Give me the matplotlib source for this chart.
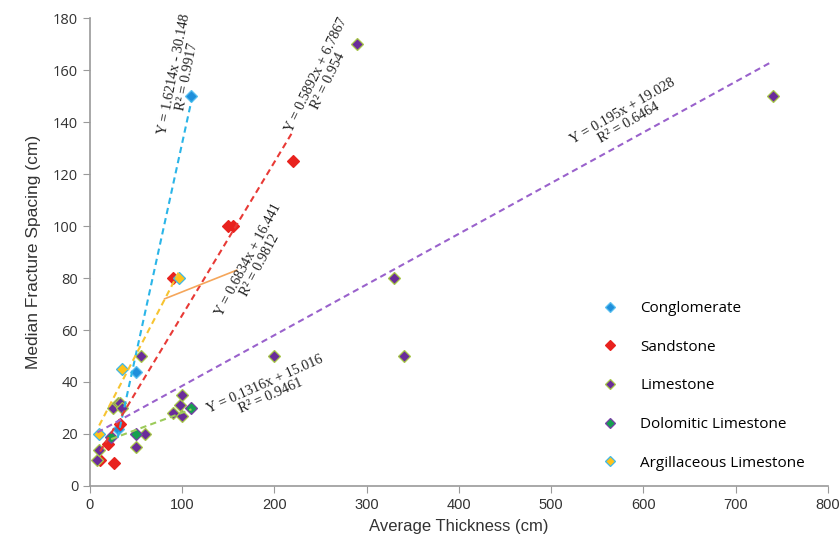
import numpy as np
import matplotlib
matplotlib.use('Agg')
import matplotlib.pyplot as plt

# data (thickness cm, spacing cm)
names = ['Conglomerate', 'Sandstone', 'Limestone', 'Dolomitic Limestone',
         'Argillaceous Limestone']

cong_x = [30, 50, 110]
cong_y = [22, 44, 150]

sand_x = [11, 20, 26, 33, 90, 150, 155, 220]
sand_y = [10, 16, 9, 24, 80, 100, 100, 125]

lime_x = [8, 10, 25, 30, 33, 35, 50, 55, 60, 90, 98, 100, 100, 200, 290, 330, 340, 740]
lime_y = [10, 14, 30, 32, 32, 30, 15, 50, 20, 28, 31, 27, 35, 50, 170, 80, 50, 150]

dolo_x = [23, 50, 110]
dolo_y = [19, 20, 30]

argi_x = [10, 35, 96]
argi_y = [20, 45, 80]

# trendline coefficients as printed on the chart
slopes = [1.6214, 0.5892, 0.195, 0.1316, 0.6834]
intercepts = [-30.148, 6.7867, 19.028, 15.016, 16.441]
r2 = ['0.9917', '0.954', '0.6464', '0.9461', '0.9812']

xs = [cong_x, sand_x, lime_x, dolo_x, argi_x]
ys = [cong_y, sand_y, lime_y, dolo_y, argi_y]

fills = ['#1F8FDB', '#E8221E', '#6A2C9A', '#16A050', '#FFC21A']
edges = ['#5BC0F0', '#E8221E', '#A8C848', '#7A3FA8', '#3FB8E8']
trend_cols = ['#2BB5E8', '#E83A36', '#9A62CC', '#9CCB5A', '#F7C431']

# label placement (data coords) and rotation
lab_pos = [(98, 158), (252, 157), (581, 142), (193, 37), (178, 86)]
lab_rot = [79, 64, 30, 24, 62]

fig = plt.figure(figsize=(8.4, 5.46), dpi=100)
ax = fig.add_axes([0.1071, 0.1099, 0.8786, 0.8571])

for i in range(5):
    ax.plot(xs[i], ys[i], 'D', ms=6, mfc=fills[i], mec=edges[i], mew=0.9,
            ls='none', label=names[i], zorder=2)

for i in range(5):
    x0, x1 = min(xs[i]), max(xs[i])
    tx = np.array([x0, x1])
    ax.plot(tx, slopes[i] * tx + intercepts[i], ls=(0, (3, 2)), lw=1.5,
            color=trend_cols[i], zorder=3)

for i in range(5):
    b = intercepts[i]
    sign = '-' if b < 0 else '+'
    txt = 'Y = %gx %s %g\nR² = %s' % (slopes[i], sign, abs(b), r2[i])
    ax.text(lab_pos[i][0], lab_pos[i][1], txt, rotation=lab_rot[i],
            rotation_mode='anchor', ha='center', va='center',
            family='Liberation Serif', fontsize=10.3, color='#222222',
            linespacing=1.0, zorder=4)

# leader line for the argillaceous label
lead_x = [81, 159]
lead_y = [72, 83]
ax.plot(lead_x, lead_y, color='#F5A65B', lw=1.2, zorder=3)

ax.set_xlim(0, 800)
ax.set_ylim(0, 180)
ax.set_xticks(np.arange(0, 801, 100))
ax.set_yticks(np.arange(0, 181, 20))
for s in ['top', 'right']:
    ax.spines[s].set_visible(False)
for s in ['left', 'bottom']:
    ax.spines[s].set_color('#9a9a9a')
    ax.spines[s].set_linewidth(1.2)
ax.tick_params(direction='out', length=5, color='#9a9a9a', labelcolor='#333333')
for t in ax.get_xticklabels():
    t.set_family('Liberation Sans')
    t.set_fontsize(10.5)
for t in ax.get_yticklabels():
    t.set_family('Open Sans')
    t.set_fontsize(10.5)

ax.set_xlabel('Average Thickness (cm)', family='Liberation Sans',
              fontsize=12, color='#333333', labelpad=5)
ax.set_ylabel('Median Fracture Spacing (cm)', family='Liberation Sans',
              fontsize=12.5, color='#333333', labelpad=9)

ax.legend(loc='upper left', bbox_to_anchor=(0.665, 0.425), frameon=False,
          prop={'family': 'Open Sans', 'size': 11}, labelspacing=1.55,
          handletextpad=1.0, markerscale=0.8)

fig.savefig('out.png', dpi=100)
